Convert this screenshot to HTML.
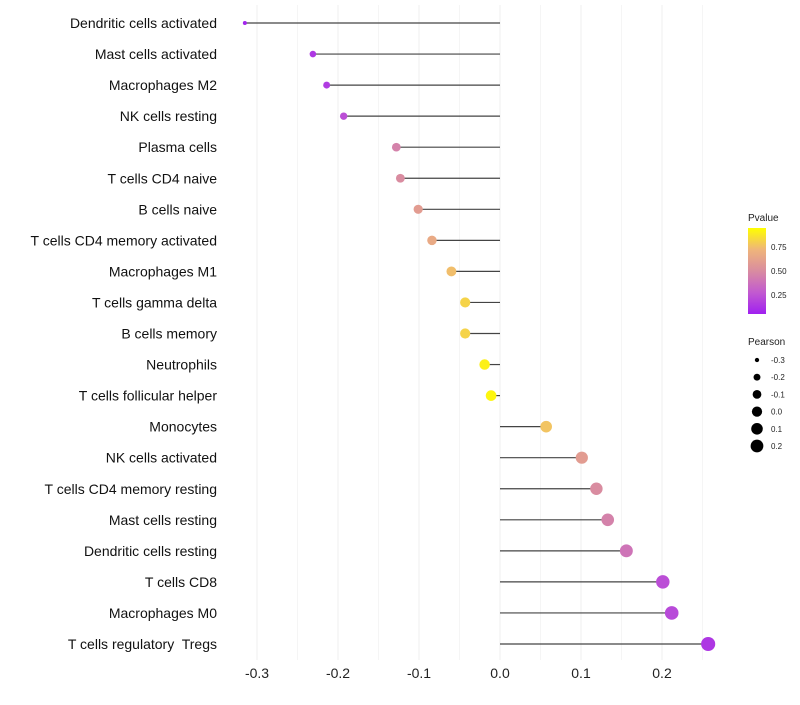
<!DOCTYPE html>
<html><head><meta charset="utf-8"><style>
body{margin:0;background:#fff;font-family:"Liberation Sans",sans-serif}
svg text{font-family:"Liberation Sans",sans-serif;white-space:pre}
</style></head><body>
<svg id="chart" width="800" height="700">
<defs><linearGradient id="pg" x1="0" y1="1" x2="0" y2="0">
<stop offset="0" stop-color="#a020f0"/><stop offset="0.25" stop-color="#c25ad0"/><stop offset="0.5" stop-color="#d98ca0"/><stop offset="0.75" stop-color="#efb57a"/><stop offset="1" stop-color="#ffff00"/></linearGradient></defs>
<g id="grid"></g>
<g id="marks"></g>
<g id="labels"></g>
<g>
<text x="748" y="221" font-size="10" fill="#222">Pvalue</text>
<rect x="748" y="228" width="18" height="86" fill="url(#pg)"/>
<text x="771" y="250" font-size="8" fill="#222">0.75</text>
<text x="771" y="274" font-size="8" fill="#222">0.50</text>
<text x="771" y="298" font-size="8" fill="#222">0.25</text>
</g>
<g id="sizeleg">
<text x="748" y="345" font-size="10" fill="#222">Pearson</text>
</g>
</svg>
<script>
const categories=["Dendritic cells activated","Mast cells activated","Macrophages M2","NK cells resting","Plasma cells","T cells CD4 naive","B cells naive","T cells CD4 memory activated","Macrophages M1","T cells gamma delta","B cells memory","Neutrophils","T cells follicular helper","Monocytes","NK cells activated","T cells CD4 memory resting","Mast cells resting","Dendritic cells resting","T cells CD8","Macrophages M0","T cells regulatory  Tregs"];
const pearson=[-0.315,-0.231,-0.214,-0.193,-0.128,-0.123,-0.101,-0.084,-0.060,-0.043,-0.043,-0.019,-0.011,0.057,0.101,0.119,0.133,0.156,0.201,0.212,0.257];
const pvalue=[0.02,0.1,0.12,0.2,0.45,0.5,0.6,0.68,0.78,0.85,0.85,0.95,0.97,0.8,0.6,0.5,0.45,0.38,0.2,0.18,0.1];
const xTicks=[-0.3,-0.2,-0.1,0.0,0.1,0.2];
const sizeLegend=[-0.3,-0.2,-0.1,0.0,0.1,0.2];
const NS="http://www.w3.org/2000/svg";
const x=v=>500+v*810;
const y=i=>23+i*31.05;
const r=v=>Math.sqrt(Math.max(3,4+80*(v+0.315)));
const stops=[[0,[160,32,240]],[0.25,[194,90,208]],[0.5,[217,140,160]],[0.75,[239,181,122]],[1,[255,255,0]]];
function col(p){for(let k=1;k<stops.length;k++){if(p<=stops[k][0]){const a=stops[k-1],b=stops[k],t=(p-a[0])/(b[0]-a[0]);return "rgb("+a[1].map((c,j)=>Math.round(c+(b[1][j]-c)*t)).join(",")+")";}}return "rgb(255,255,0)";}
function mk(t,at,parent){const e=document.createElementNS(NS,t);for(const k in at)e.setAttribute(k,at[k]);parent.appendChild(e);return e;}
const grid=document.getElementById('grid'),marks=document.getElementById('marks'),labels=document.getElementById('labels'),sl=document.getElementById('sizeleg');
for(let v=-0.35;v<=0.26;v+=0.05){const gx=x(v);if(gx<225||gx>725)continue;const l=mk('line',{x1:gx,x2:gx,y1:5,y2:660,stroke:'#efefef','stroke-width':Math.abs(Math.round(v*100))%10===0?1:0.6},grid);
}
xTicks.forEach(t=>{const e=mk('text',{x:x(t),y:678,'font-size':14,'text-anchor':'middle',fill:'#222'},labels);e.textContent=t.toFixed(1);
});
categories.forEach((c,i)=>{const yy=y(i);
const t=mk('text',{x:217,y:yy+5,'font-size':14,'text-anchor':'end',fill:'#111'},labels);t.textContent=c;

const s=mk('line',{x1:x(0),x2:x(pearson[i]),y1:yy,y2:yy,stroke:'#444','stroke-width':1.2},marks);

const d=mk('circle',{cx:x(pearson[i]),cy:yy,r:r(pearson[i]),fill:col(pvalue[i])},marks);
});
sizeLegend.forEach((v,k)=>{const yy=360+k*17.2;
const c=mk('circle',{cx:757,cy:yy,r:r(v)*0.95,fill:'#000'},sl);
const t=mk('text',{x:771,y:yy+3,'font-size':8,fill:'#222'},sl);t.textContent=v.toFixed(1);});
</script>
</body></html>
